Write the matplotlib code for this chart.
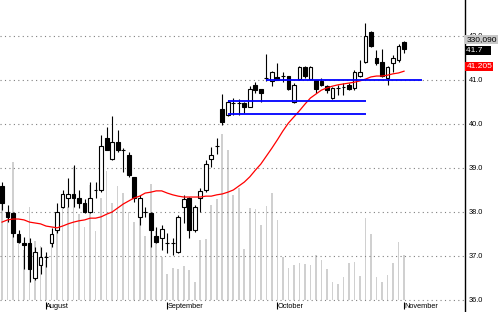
import matplotlib
matplotlib.use("Agg")
import matplotlib.pyplot as plt
import numpy as np

# daily candles, mid July to early November
opens = [38.59, 38.00, 37.98, 37.50, 37.30, 37.30, 36.50, 36.80, 36.98, 37.30,
         37.60, 38.11, 38.32, 38.40, 38.32, 38.20, 38.00, 38.50, 38.50, 39.68,
         39.20, 39.59, 39.41, 39.30, 38.80, 37.89, 38.00, 37.98, 37.45, 37.41,
         37.30, 37.30, 37.09, 38.11, 38.32, 37.59, 38.32, 38.50, 39.20, 39.50,
         40.34, 40.20, 40.48, 40.48, 40.48, 40.39, 40.89, 40.80, 41.05, 40.98,
         41.07, 41.09, 41.09, 40.50, 41.02, 41.30, 41.02, 41.00, 40.98, 40.86,
         40.59, 40.82, 40.84, 40.89, 40.82, 41.09, 41.41, 42.09, 41.50, 41.41,
         41.05, 41.39, 41.45, 41.86]
highs = [38.68, 38.16, 38.00, 37.59, 37.43, 37.40, 37.20, 37.20, 37.10, 37.63,
         38.20, 38.50, 38.77, 39.07, 38.50, 38.30, 38.68, 38.68, 39.75, 39.93,
         40.18, 39.86, 39.45, 39.36, 38.80, 38.39, 38.11, 38.00, 37.66, 37.70,
         37.52, 37.41, 37.93, 38.39, 38.34, 38.16, 38.55, 39.18, 39.48, 39.68,
         40.68, 40.55, 40.60, 40.57, 40.50, 40.86, 40.95, 40.80, 41.60, 41.20,
         41.39, 41.18, 41.09, 40.93, 41.32, 41.32, 41.32, 41.00, 41.05, 40.89,
         40.84, 40.89, 40.93, 40.93, 41.23, 41.45, 42.30, 42.11, 41.68, 41.70,
         41.32, 41.57, 41.82, 41.89]
lows = [38.05, 37.77, 37.43, 37.30, 36.70, 36.40, 36.45, 36.60, 36.75, 37.20,
        37.52, 38.09, 38.11, 38.11, 38.10, 37.98, 37.98, 38.32, 38.45, 39.40,
        39.18, 39.36, 38.90, 38.80, 38.23, 37.70, 37.89, 37.20, 37.30, 37.14,
        37.07, 37.02, 37.07, 37.75, 37.41, 37.55, 38.00, 38.45, 39.02, 39.32,
        39.98, 40.18, 40.20, 40.20, 40.25, 40.39, 40.70, 40.50, 40.98, 40.86,
        41.00, 40.95, 40.77, 40.48, 41.00, 41.05, 41.00, 40.70, 40.86, 40.70,
        40.57, 40.66, 40.66, 40.77, 40.77, 41.07, 41.39, 41.75, 41.34, 41.07,
        40.89, 41.18, 41.41, 41.61]
closes = [38.20, 37.89, 37.52, 37.32, 37.25, 36.70, 37.10, 36.98, 36.98, 37.50,
          38.00, 38.41, 38.41, 38.32, 38.20, 38.00, 38.32, 38.50, 39.50, 39.41,
          39.59, 39.41, 39.41, 38.84, 38.32, 38.32, 38.00, 37.60, 37.32, 37.61,
          37.30, 37.30, 37.89, 38.30, 37.59, 38.11, 38.48, 39.09, 39.30, 39.50,
          40.05, 40.50, 40.48, 40.48, 40.39, 40.80, 40.77, 40.70, 41.05, 41.18,
          41.00, 41.09, 40.80, 40.89, 41.30, 41.09, 41.30, 40.80, 40.89, 40.77,
          40.82, 40.82, 40.84, 40.80, 41.18, 41.18, 42.00, 41.77, 41.39, 41.09,
          41.30, 41.50, 41.77, 41.70]
# moving average
ma = [37.77, 37.82, 37.84, 37.84, 37.82, 37.77, 37.75, 37.73, 37.68, 37.66,
      37.64, 37.68, 37.73, 37.77, 37.80, 37.82, 37.86, 37.86, 37.89, 37.95,
      38.00, 38.09, 38.18, 38.25, 38.32, 38.36, 38.43, 38.45, 38.48, 38.48,
      38.43, 38.39, 38.36, 38.34, 38.34, 38.34, 38.34, 38.36, 38.36, 38.39,
      38.41, 38.45, 38.50, 38.59, 38.68, 38.80, 38.95, 39.09, 39.27, 39.45,
      39.64, 39.84, 40.02, 40.16, 40.30, 40.45, 40.59, 40.68, 40.77, 40.82,
      40.86, 40.89, 40.91, 40.93, 40.95, 40.98, 41.02, 41.07, 41.09, 41.09,
      41.11, 41.14, 41.16, 41.20]
volumes = [784000, 609000, 1015000, 469000, 364000, 679000, 434000, 399000, 294000, 448000,
           609000, 714000, 679000, 973000, 630000, 539000, 840000, 504000, 749000, 945000,
           714000, 833000, 784000, 644000, 574000, 679000, 469000, 854000, 504000, 315000,
           189000, 238000, 224000, 252000, 217000, 133000, 441000, 448000, 700000, 742000,
           1218000, 1099000, 770000, 819000, 371000, 672000, 665000, 553000, 693000, 784000,
           588000, 315000, 238000, 259000, 273000, 266000, 259000, 329000, 294000, 224000,
           133000, 119000, 168000, 273000, 280000, 175000, 602000, 483000, 168000, 133000,
           182000, 273000, 427000, 330090]

month_pos = [8, 30, 50, 73]
month_names = ["August", "September", "October", "November"]

# horizontal levels: price, start index, end index
level_price = [41.0, 40.52, 40.23]
level_start = [48, 41, 41]
level_end = [76.3, 66.1, 66.1]

plt.rcParams['font.family'] = ['Liberation Sans', 'DejaVu Sans']

fig = plt.figure(figsize=(5, 3.12), dpi=100)
ax = fig.add_axes([0, 0, 0.93, 1])
axv = ax.twinx()
ax.set_zorder(axv.get_zorder() + 1)
ax.patch.set_visible(False)

x = np.arange(len(closes))

# volume in the background
axv.bar(x, volumes, width=0.3, color='#d0d0d0', linewidth=0)
axv.set_ylim(-12 * 7335, 300 * 7335)
axv.set_yticks([])
for s in axv.spines.values():
    s.set_visible(False)

# candles
o = np.array(opens)
c = np.array(closes)
ax.vlines(x, lows, highs, color='black', linewidth=0.8, zorder=3)
up = c >= o
ax.bar(x, np.abs(c - o), bottom=np.minimum(o, c), width=0.68,
       color=np.where(up, 'white', 'black'), edgecolor='black',
       linewidth=0.8, zorder=4)

ax.plot(x, ma, color='#ff0000', linewidth=0.9, zorder=5)

for p, s0, s1 in zip(level_price, level_start, level_end):
    ax.hlines(p, s0, s1, color='#0000ff', linewidth=1.3, zorder=6)

ax.set_xlim(-0.363, 84.07)
ax.set_ylim(35.727, 42.818)

ax.set_yticks([36, 37, 38, 39, 40, 41, 42])
ax.set_yticklabels(['%.1f' % v for v in [36, 37, 38, 39, 40, 41, 42]])
ax.yaxis.tick_right()
ax.tick_params(axis='y', length=0, pad=2.5, labelsize=5.3)
ax.grid(axis='y', linestyle=(0, (1, 3)), color='#808080', linewidth=0.8)

ax.set_xticks(month_pos)
ax.set_xticklabels(month_names)
ax.spines['bottom'].set_position(('data', 35.955))
ax.spines['bottom'].set_visible(False)
ax.tick_params(axis='x', direction='out', length=5, width=0.8, pad=-4, labelsize=5.3)
for lab in ax.get_xticklabels():
    lab.set_horizontalalignment('left')

for side in ['top', 'left']:
    ax.spines[side].set_visible(False)
ax.spines['right'].set_color('black')
ax.spines['right'].set_linewidth(1)

# last value tags
ax.text(1.003, 41.909, '330,090', transform=ax.get_yaxis_transform(), fontsize=6,
        va='center', ha='left', color='black', zorder=10,
        bbox=dict(boxstyle='square,pad=0.12', fc='#c8c8c8', ec='none'))
ax.text(1.003, 41.66, '41.7   ', transform=ax.get_yaxis_transform(), fontsize=6,
        va='center', ha='left', color='white', zorder=10,
        bbox=dict(boxstyle='square,pad=0.12', fc='black', ec='none'))
ax.text(1.003, 41.30, '41.205', transform=ax.get_yaxis_transform(), fontsize=6,
        va='center', ha='left', color='white', zorder=10,
        bbox=dict(boxstyle='square,pad=0.12', fc='#ff0000', ec='none'))

fig.savefig('out.png', dpi=100)
